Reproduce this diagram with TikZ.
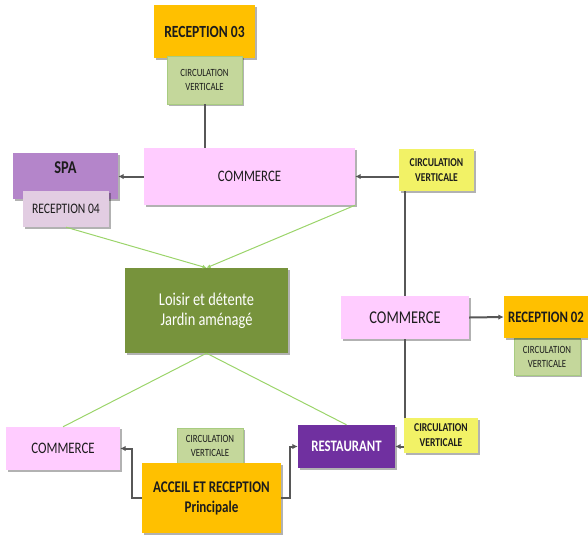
\documentclass[tikz,border=0pt]{standalone}
\usepackage{fontspec}
\setmainfont{Carlito}[FakeStretch=0.8]
\usetikzlibrary{arrows.meta,shadows}
\definecolor{ink}{HTML}{1C1C1C}
\definecolor{wire}{HTML}{575757}
\definecolor{recOr}{HTML}{FFC000}
\definecolor{shop}{HTML}{FFCCFF}
\definecolor{spaV}{HTML}{B485CA}
\definecolor{spaL}{HTML}{E2CDE2}
\definecolor{circG}{HTML}{C4D79B}
\definecolor{circGd}{HTML}{A8CC80}
\definecolor{circY}{HTML}{F2F266}
\definecolor{parc}{HTML}{77933C}
\definecolor{restV}{HTML}{7030A0}
\definecolor{walk}{HTML}{9BD46A}
\newcommand{\fs}[1]{\fontsize{#1}{#1}\selectfont}
\tikzset{>=Latex,
  blk/.style={inner sep=2pt,align=center,text=ink,
    drop shadow={shadow xshift=1.5pt,shadow yshift=-1.8pt,opacity=0.3,fill=black}},
  orng/.style={blk,fill=recOr,font=\fs{17}\bfseries},
  shopbox/.style={blk,fill=shop,font=\fs{16}},
  cvg/.style={blk,fill=circG,draw=circGd,line width=0.6pt,font={\fontsize{11}{14}\selectfont}},
  cvy/.style={blk,fill=circY,font={\fontsize{12}{15}\selectfont\bfseries}},
  link/.style={draw=wire,line width=2pt},
  arr/.style={link,-{Latex[length=5.5pt,width=5.5pt]}},
  lawn/.style={draw=walk,line width=1pt}}
\begin{document}
\begin{tikzpicture}[x=1pt,y=-1pt]
  \useasboundingbox (0,0) rectangle (588,539);
  % top branch
  \node[orng,minimum width=101,minimum height=53] (rec3) at (204.5,31.5) {RECEPTION 03};
  \node[cvg,minimum width=75,minimum height=48] (cvA) at (204.5,80) {CIRCULATION\\VERTICALE};
  \node[shopbox,minimum width=211,minimum height=57] (comA) at (249.5,176.5) {COMMERCE};
  \node[blk,fill=spaV,font=\fs{18}\bfseries,text height=12pt,text depth=18pt,
    minimum width=105,minimum height=46] (spa) at (65.5,176) {SPA};
  \node[blk,fill=spaL,font=\fs{14.5},minimum width=86,minimum height=36] (rec4) at (66,209) {RECEPTION 04};
  \node[cvy,minimum width=75,minimum height=42] (cvB) at (436.5,170) {CIRCULATION\\VERTICALE};
  % right branch
  \node[cvg,minimum width=66,minimum height=37] (cvC) at (547,356.5) {CIRCULATION\\VERTICALE};
  \node[orng,font=\fs{16}\bfseries,minimum width=84,minimum height=42] (rec2) at (546,317) {RECEPTION 02};
  \node[shopbox,font=\fs{18},minimum width=128,minimum height=43] (comB) at (405,317.5) {COMMERCE};
  \node[cvy,minimum width=74,minimum height=35] (cvE) at (441,435.5) {CIRCULATION\\VERTICALE};
  % centre
  \node[blk,fill=parc,text=white,font={\fontsize{18}{20}\selectfont},
    minimum width=163,minimum height=85] (garden) at (206.5,310.5) {Loisir et détente\\Jardin aménagé};
  % bottom branch
  \node[shopbox,minimum width=114,minimum height=43] (comC) at (63,448.5) {COMMERCE};
  \node[cvg,minimum width=66,minimum height=35] (cvD) at (210,445.5) {CIRCULATION\\VERTICALE};
  \node[orng,font={\fontsize{16.3}{20}\selectfont\bfseries},minimum width=139,minimum height=70] (accueil) at (211.5,498) {ACCEIL ET RECEPTION\\Principale};
  \node[blk,fill=restV,text=white,font=\fs{16}\bfseries,minimum width=97,minimum height=43] (resto) at (346.5,446.5) {RESTAURANT};
  % connectors
  \draw[link] (cvA.south) -- (cvA.south |- comA.north);
  \draw[arr] (comA.west) -- (comA.west -| spa.east);
  \draw[arr] (comA.east -| cvB.west) -- (comA.east);
  \draw[link] ([xshift=-31.5pt]cvB.south) -- ([xshift=-31.5pt]cvB.south |- comB.north);
  \draw[link] (comB.south) -- (comB.south |- cvE.north);
  \draw[arr] (comB.east) -- (rec2.west);
  \draw[arr] (resto.east -| cvE.west) -- (resto.east);
  \draw[arr] (accueil.west) -- ++(-10,0) |- (comC.east);
  \draw[arr] (accueil.east) -- ++(9,0) |- (resto.west);
  \draw[lawn,-{Latex[length=4pt,width=4pt]}] (rec4.south) -- (garden.north);
  \draw[lawn,-{Latex[length=4pt,width=4pt]}] (comA.south east) -- (garden.north);
  \draw[lawn] (garden.south) -- (comC.north);
  \draw[lawn] (garden.south) -- (resto.north);
\end{tikzpicture}
\end{document}
